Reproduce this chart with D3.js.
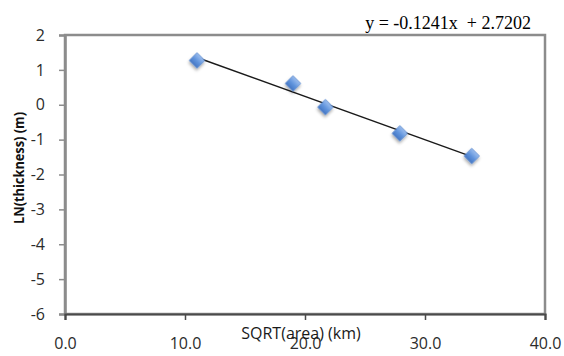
<!DOCTYPE html>
<html>
<head>
<meta charset="utf-8">
<script src="https://cdn.jsdelivr.net/npm/d3@7/dist/d3.min.js"></script>
<style>
  html, body { margin: 0; padding: 0; background: #fff; }
  svg { display: block; }
</style>
</head>
<body>
<svg id="chart" width="564" height="356"></svg>
<script>
// Lake data: square root of area vs. log of thickness
const sqrtArea = [11.0, 19.0, 21.7, 27.9, 33.9];
const lnThickness = [1.27, 0.61, -0.07, -0.82, -1.47];

// Linear trendline coefficients
const slope = -0.1241;
const intercept = 2.7202;

const xTicks = [0, 10, 20, 30, 40];
const yTicks = [2, 1, 0, -1, -2, -3, -4, -5, -6];

const xLabel = "SQRT(area) (km)";
const yLabel = "LN(thickness) (m)";
const eqLabel = "y = -0.1241x  + 2.7202";

const plot = { left: 65, top: 35, right: 545, bottom: 314 };

const svg = d3.select("#chart");

const x = d3.scaleLinear().domain([0, 40]).range([plot.left, plot.right]);
const y = d3.scaleLinear().domain([-6, 2]).range([plot.bottom, plot.top]);

const defs = svg.append("defs");
const grad = defs.append("linearGradient")
  .attr("id", "markerFill").attr("x1", 0).attr("y1", 0).attr("x2", 0).attr("y2", 1);
grad.append("stop").attr("offset", "0%").attr("stop-color", "#9bbdee");
grad.append("stop").attr("offset", "55%").attr("stop-color", "#5f93dc");
grad.append("stop").attr("offset", "100%").attr("stop-color", "#4677c4");

const shadow = defs.append("filter").attr("id", "shadow")
  .attr("x", "-50%").attr("y", "-50%").attr("width", "200%").attr("height", "200%");
shadow.append("feDropShadow")
  .attr("dx", 1.2).attr("dy", 1.8).attr("stdDeviation", 1.4)
  .attr("flood-color", "#000").attr("flood-opacity", 0.35);

// Plot frame
svg.append("rect")
  .attr("x", plot.left).attr("y", plot.top)
  .attr("width", plot.right - plot.left).attr("height", plot.bottom - plot.top)
  .attr("fill", "none").attr("stroke", "#8c8c8c").attr("stroke-width", 2.5);

// Y axis
const yAxis = svg.append("g")
  .attr("transform", `translate(${plot.left},0)`)
  .call(d3.axisLeft(y).tickValues(yTicks).tickSize(6).tickPadding(14)
    .tickFormat(d => String(d)));
yAxis.select(".domain").attr("stroke", "#8c8c8c").attr("stroke-width", 2.5);
yAxis.selectAll(".tick line").attr("stroke", "#8c8c8c").attr("stroke-width", 1.5);
yAxis.selectAll(".tick text")
  .attr("fill", "#2b2b2b")
  .style("font-family", "'Open Sans', sans-serif")
  .style("font-size", "16px");

// X axis
const xAxis = svg.append("g")
  .attr("transform", `translate(0,${plot.bottom})`)
  .call(d3.axisBottom(x).tickValues(xTicks).tickSize(6).tickPadding(18)
    .tickFormat(d3.format(".1f")));
xAxis.select(".domain").attr("stroke", "#4a4a4a").attr("stroke-width", 2.2);
xAxis.selectAll(".tick line").attr("stroke", "#4a4a4a").attr("stroke-width", 1.5);
xAxis.selectAll(".tick text")
  .attr("fill", "#2b2b2b")
  .style("font-family", "'Open Sans', sans-serif")
  .style("font-size", "16px");

// Axis titles
svg.append("text")
  .attr("x", 301).attr("y", 339)
  .attr("text-anchor", "middle")
  .attr("fill", "#1a1a1a")
  .style("font-family", "'Open Sans', sans-serif")
  .style("font-size", "16px")
  .text(xLabel);

svg.append("text")
  .attr("transform", "translate(24,168) rotate(-90)")
  .attr("text-anchor", "middle")
  .attr("fill", "#111")
  .attr("textLength", 112)
  .attr("lengthAdjust", "spacingAndGlyphs")
  .style("font-family", "'Open Sans', sans-serif")
  .style("font-weight", "bold")
  .style("font-size", "15px")
  .text(yLabel);

// Trendline from the fitted equation over the data range
const xExt = d3.extent(sqrtArea);
const trend = xExt.map(v => [v, slope * v + intercept]);
svg.append("path")
  .datum(trend)
  .attr("d", d3.line().x(d => x(d[0])).y(d => y(d[1])))
  .attr("fill", "none")
  .attr("stroke", "#1a1a1a")
  .attr("stroke-width", 1.4);

// Diamond markers
const pts = sqrtArea.map((v, i) => ({ x: v, y: lnThickness[i] }));
svg.append("g").selectAll("path")
  .data(pts)
  .join("path")
  .attr("d", d3.symbol().type(d3.symbolSquare).size(118))
  .attr("transform", d => `translate(${x(d.x)},${y(d.y)}) rotate(45)`)
  .attr("fill", "url(#markerFill)")
  .attr("stroke", "#5584cc")
  .attr("stroke-width", 0.6)
  .attr("filter", "url(#shadow)");

// Equation label (double space kept)
svg.append("text")
  .attr("x", 531).attr("y", 29)
  .attr("text-anchor", "end")
  .attr("fill", "#000")
  .style("white-space", "pre")
  .style("font-family", "'Liberation Serif', 'Times New Roman', serif")
  .style("font-size", "18px")
  .text(eqLabel);
</script>
</body>
</html>
